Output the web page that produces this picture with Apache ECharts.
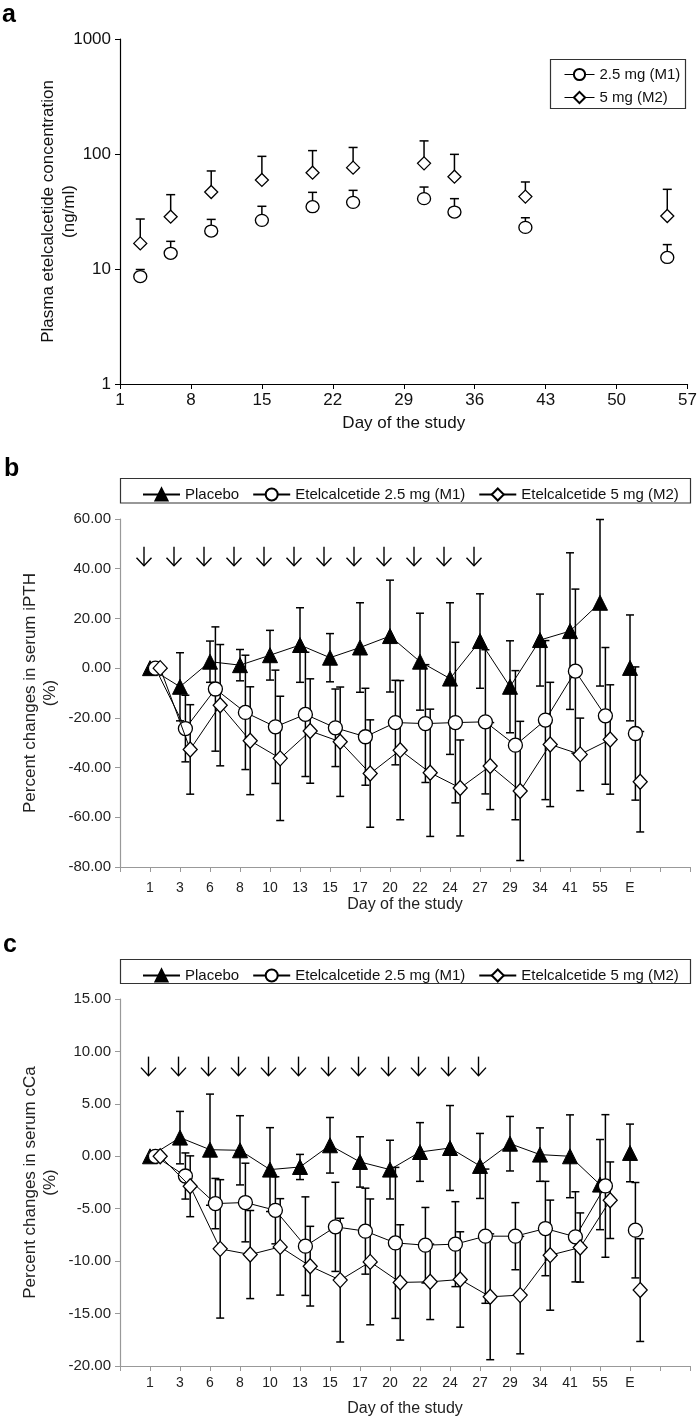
<!DOCTYPE html>
<html><head><meta charset="utf-8">
<script src="https://cdn.jsdelivr.net/npm/echarts@6/dist/echarts.min.js"></script>
<style>html,body{margin:0;padding:0;background:#fff}#c{width:700px;height:1419px}</style>
</head><body><div id="c"></div>
<script>
// ---------- Panel a: plasma concentration (log scale) ----------
const daysA = [3, 6, 10, 15, 20, 24, 31, 34, 41, 55];
const concM1 = [8.6, 13.7, 21.4, 26.5, 34.8, 38.0, 40.9, 31.3, 23.0, 12.6];
const concM1Top = [9.9, 17.4, 27.0, 35.1, 46.4, 48.3, 51.6, 40.9, 27.9, 16.3];
const concM2 = [16.7, 28.5, 46.7, 59.5, 68.8, 76.1, 82.9, 63.5, 42.6, 28.9];
const concM2Top = [27.2, 44.3, 71.2, 95.4, 107, 114, 130, 99.3, 57.1, 49.3];

// ---------- Panels b and c: visits ----------
const visitCats = ['1','3','6','8','10','13','15','17','20','22','24','27','29','34','41','55','E'];
const dosingDays = ['1','3','6','8','10','13','15','17','20','22','24','27'];

// Panel b: % change in serum iPTH (mean, SD)
const pthPlacebo = [0, -7.5, 2.6, 1.2, 5.2, 9.3, 4.2, 8.3, 12.9, 2.6, -4.2, 10.9, -7.5, 11.3, 14.9, 26.3, 0.1];
const pthPlaceboSD = [0, 13.7, 8.3, 6.3, 10, 15, 9.7, 18, 22.5, 19.5, 30.5, 19, 18.5, 18.5, 31.5, 33.5, 21.3];
const pthM1 = [0, -24.3, -8.4, -17.8, -23.6, -18.6, -24.0, -27.6, -21.9, -22.3, -21.9, -21.6, -31.0, -20.9, -1.2, -19.2, -26.3];
const pthM1SD = [0, 13.4, 25, 23, 22.8, 25, 15.6, 19.5, 17, 23.7, 32.3, 29, 30, 32, 33, 27.5, 26.8];
const pthM2 = [0, -32.7, -14.9, -29.2, -36.3, -25.3, -29.6, -42.4, -33.0, -42.1, -48.2, -39.4, -49.4, -30.7, -34.7, -28.7, -45.7];
const pthM2SD = [0, 18, 24.4, 21.7, 25, 21, 22, 21.6, 28, 25.6, 19.3, 17.5, 28, 25, 14.6, 22, 20.2];

// Panel c: % change in serum cCa (mean, SD)
const caPlacebo = [0, 1.78, 0.63, 0.57, -1.27, -1.02, 1.05, -0.54, -1.27, 0.41, 0.79, -0.92, 1.2, 0.16, 0.0, -2.7, 0.32];
const caPlaceboSD = [0, 2.5, 5.3, 3.3, 4.0, 1.2, 2.65, 2.4, 2.8, 2.8, 4.05, 3.1, 2.6, 2.55, 3.95, 4.3, 2.75];
const caM1 = [0, -1.88, -4.51, -4.41, -5.15, -8.57, -6.73, -7.14, -8.26, -8.48, -8.38, -7.62, -7.62, -6.89, -7.68, -2.83, -7.05];
const caM1SD = [0, 2.2, 2.4, 3.75, 3.2, 4.7, 4.25, 4.1, 7.2, 3.6, 4.05, 6.4, 3.2, 4.5, 4.3, 6.8, 4.55];
const caM2 = [0, -2.86, -8.83, -9.37, -8.64, -10.48, -11.81, -10.07, -12.03, -11.97, -11.75, -13.4, -13.24, -9.43, -8.7, -4.19, -12.76];
const caM2SD = [0, 2.9, 6.6, 4.2, 4.6, 3.8, 5.9, 6.0, 5.5, 3.6, 4.55, 6.0, 5.6, 5.25, 3.3, 3.65, 4.9];

const FONT = "'Liberation Sans', Arial, Helvetica, sans-serif";
const chart = echarts.init(document.getElementById('c'));

const offM1 = 0.18, offM2 = 0.34, offArrowB = -0.2, offArrowC = -0.05;
const nameP = 'Placebo', nameM1 = 'Etelcalcetide 2.5 mg (M1)', nameM2 = 'Etelcalcetide 5 mg (M2)';

function lineData(means, off) {
  const out = [];
  visitCats.forEach((c, i) => {
    if (c === 'E') out.push([i + off + 0.5, '-']);
    out.push([i + 1 + off, means[i]]);
  });
  return out;
}
function errData(means, sds, off) {
  return visitCats.map((c, i) => [i + 1 + off, means[i], sds[i]]).filter(d => d[2] > 0);
}
const barStyle = { stroke: '#000', lineWidth: 1.5 };
function errRender(params, api) {
  const x = api.value(0), m = api.value(1), s = api.value(2);
  const a = api.coord([x, m + s]), b = api.coord([x, m - s]);
  const w = 4;
  return { type: 'group', children: [
    { type: 'line', shape: { x1: a[0], y1: a[1], x2: b[0], y2: b[1] }, style: barStyle },
    { type: 'line', shape: { x1: a[0] - w, y1: a[1], x2: a[0] + w, y2: a[1] }, style: barStyle },
    { type: 'line', shape: { x1: b[0] - w, y1: b[1], x2: b[0] + w, y2: b[1] }, style: barStyle }
  ]};
}
function errUpRender(params, api) {
  const x = api.value(0), m = api.value(1), t = api.value(2);
  const a = api.coord([x, m]), b = api.coord([x, t]);
  const w = 4.5;
  return { type: 'group', children: [
    { type: 'line', shape: { x1: a[0], y1: a[1], x2: b[0], y2: b[1] }, style: barStyle },
    { type: 'line', shape: { x1: b[0] - w, y1: b[1], x2: b[0] + w, y2: b[1] }, style: barStyle }
  ]};
}
function arrowRender(params, api) {
  const p = api.coord([api.value(0), api.value(1)]);
  const st = { stroke: '#000', lineWidth: 1.4, fill: 'none' };
  return { type: 'group', children: [
    { type: 'line', shape: { x1: p[0], y1: p[1] - 9.5, x2: p[0], y2: p[1] + 9.5 }, style: st },
    { type: 'polyline', shape: { points: [[p[0] - 7.5, p[1] + 1.5], [p[0], p[1] + 9.5], [p[0] + 7.5, p[1] + 1.5]] }, style: st }
  ]};
}

const symStyleHollow = { color: '#fff', borderColor: '#000', borderWidth: 1.3 };
const symStyleFilled = { color: '#000', borderColor: '#000', borderWidth: 1 };

function visitPanel(xi, P, PSD, M1, M1SD, M2, M2SD, arrowLevel, arrowOff) {
  return [
    { type: 'custom', xAxisIndex: xi, yAxisIndex: xi, renderItem: errRender, encode: { x: 0, y: 1 }, data: errData(P, PSD, 0), z: 1, silent: true },
    { type: 'custom', xAxisIndex: xi, yAxisIndex: xi, renderItem: errRender, encode: { x: 0, y: 1 }, data: errData(M1, M1SD, offM1), z: 1, silent: true },
    { type: 'custom', xAxisIndex: xi, yAxisIndex: xi, renderItem: errRender, encode: { x: 0, y: 1 }, data: errData(M2, M2SD, offM2), z: 1, silent: true },
    { type: 'line', name: nameP, xAxisIndex: xi, yAxisIndex: xi, data: lineData(P, 0), symbol: 'triangle', symbolSize: 15,
      lineStyle: { color: '#000', width: 1 }, itemStyle: symStyleFilled, z: 3 },
    { type: 'line', name: nameM1, xAxisIndex: xi, yAxisIndex: xi, data: lineData(M1, offM1), symbol: 'circle', symbolSize: 14,
      lineStyle: { color: '#000', width: 1 }, itemStyle: symStyleHollow, z: 4 },
    { type: 'line', name: nameM2, xAxisIndex: xi, yAxisIndex: xi, data: lineData(M2, offM2), symbol: 'diamond', symbolSize: [14, 15],
      lineStyle: { color: '#000', width: 1 }, itemStyle: symStyleHollow, z: 5 },
    { type: 'custom', xAxisIndex: xi, yAxisIndex: xi, renderItem: arrowRender, encode: { x: 0, y: 1 },
      data: dosingDays.map(d => [visitCats.indexOf(d) + 1 + arrowOff, arrowLevel]), z: 2, silent: true }
  ];
}

function visitX(gi, margin, gap) {
  return { type: 'value', gridIndex: gi, min: 0, max: 19, interval: 1,
    axisLine: { onZero: false, lineStyle: { color: '#999', width: 1.2 } },
    axisTick: { show: true, length: 5, lineStyle: { color: '#999' } }, splitLine: { show: false },
    axisLabel: { color: '#222', fontSize: 14, fontFamily: FONT, margin: margin,
      formatter: v => (v >= 1 && v <= visitCats.length) ? visitCats[v - 1] : '' },
    name: 'Day of the study', nameLocation: 'middle', nameGap: gap, nameMoveOverlap: false,
    nameTextStyle: { color: '#222', fontSize: 16, fontFamily: FONT, verticalAlign: 'top' } };
}
function visitY(gi, min, max, interval, title) {
  return { type: 'value', gridIndex: gi, min, max, interval,
    axisLine: { show: true, onZero: false, lineStyle: { color: '#999', width: 1.2 } },
    axisTick: { show: true, length: 5, lineStyle: { color: '#999' } },
    splitLine: { show: false },
    axisLabel: { color: '#222', fontSize: 15, fontFamily: FONT, margin: 9, formatter: v => v.toFixed(2) },
    name: title, nameLocation: 'middle', nameRotate: 90, nameGap: 60, nameMoveOverlap: false,
    nameTextStyle: { color: '#222', fontSize: 17, fontFamily: FONT, lineHeight: 20 } };
}

const option = {
  animation: false,
  backgroundColor: '#fff',
  textStyle: { fontFamily: FONT },
  grid: [
    { left: 120, right: 12, top: 39, height: 345 },
    { left: 120, right: 10, top: 519, height: 348 },
    { left: 120, right: 10, top: 999, height: 367 }
  ],
  xAxis: [
    { type: 'value', gridIndex: 0, min: 0, max: 56, interval: 7,
      axisLine: { onZero: false, lineStyle: { color: '#000', width: 1.2 } }, axisTick: { length: 5, lineStyle: { color: '#000' } }, splitLine: { show: false },
      axisLabel: { color: '#111', fontSize: 17, fontFamily: FONT, margin: 8, formatter: v => String(v + 1) },
      name: 'Day of the study', nameLocation: 'middle', nameGap: 31, nameMoveOverlap: false,
      nameTextStyle: { color: '#111', fontSize: 17, fontFamily: FONT, verticalAlign: 'top' } },
    visitX(1, 14, 30),
    visitX(2, 10, 35)
  ],
  yAxis: [
    { type: 'log', gridIndex: 0, min: 1, max: 1000, logBase: 10,
      axisLine: { show: true, lineStyle: { color: '#000', width: 1.2 } }, axisTick: { show: true, length: 5, lineStyle: { color: '#000' } },
      splitLine: { show: false }, minorTick: { show: false },
      axisLabel: { color: '#111', fontSize: 17, fontFamily: FONT, margin: 9, formatter: v => String(Math.round(v)) },
      name: 'Plasma etelcalcetide concentration\n(ng/ml)', nameLocation: 'middle', nameRotate: 90, nameGap: 40, nameMoveOverlap: false,
      nameTextStyle: { color: '#111', fontSize: 17, fontFamily: FONT, lineHeight: 21 } },
    visitY(1, -80, 60, 20, 'Percent changes in serum iPTH\n(%)'),
    visitY(2, -20, 15, 5, 'Percent changes in serum cCa\n(%)')
  ],
  legend: [
    { data: ['2.5 mg (M1)', '5 mg (M2)'], orient: 'vertical', left: 559, top: 62, itemWidth: 30, itemHeight: 14, itemGap: 8,
      textStyle: { color: '#111', fontSize: 15, fontFamily: FONT }, lineStyle: { opacity: 1, width: 1, color: '#000' }, selectedMode: false },
    { data: [nameP, nameM1, nameM2], left: 137, top: 482, itemWidth: 37, itemHeight: 15, itemGap: 13,
      textStyle: { color: '#111', fontSize: 15, fontFamily: FONT }, selectedMode: false },
    { data: [nameP, nameM1, nameM2], left: 137, top: 963, itemWidth: 37, itemHeight: 15, itemGap: 13,
      textStyle: { color: '#111', fontSize: 15, fontFamily: FONT }, selectedMode: false }
  ],
  graphic: [
    { type: 'rect', shape: { x: 550.5, y: 59.5, width: 135, height: 49 }, style: { fill: 'none', stroke: '#333', lineWidth: 1.2 } },
    { type: 'rect', shape: { x: 120.5, y: 478.5, width: 570, height: 24.5 }, style: { fill: 'none', stroke: '#333', lineWidth: 1.2 } },
    { type: 'rect', shape: { x: 120.5, y: 959.5, width: 570, height: 24 }, style: { fill: 'none', stroke: '#333', lineWidth: 1.2 } },
    { type: 'text', left: 2, top: 3, style: { text: 'a', font: 'bold 25px ' + FONT, fill: '#000' } },
    { type: 'text', left: 4, top: 457, style: { text: 'b', font: 'bold 25px ' + FONT, fill: '#000' } },
    { type: 'text', left: 3, top: 933, style: { text: 'c', font: 'bold 25px ' + FONT, fill: '#000' } }
  ],
  series: [
    { type: 'custom', xAxisIndex: 0, yAxisIndex: 0, renderItem: errUpRender, encode: { x: 0, y: 1 },
      data: daysA.map((d, i) => [d - 1, concM1[i], concM1Top[i]]), z: 1, silent: true },
    { type: 'custom', xAxisIndex: 0, yAxisIndex: 0, renderItem: errUpRender, encode: { x: 0, y: 1 },
      data: daysA.map((d, i) => [d - 1, concM2[i], concM2Top[i]]), z: 1, silent: true },
    { type: 'line', name: '2.5 mg (M1)', xAxisIndex: 0, yAxisIndex: 0, data: daysA.map((d, i) => [d - 1, concM1[i]]),
      symbol: 'circle', symbolSize: [13, 12], lineStyle: { color: '#000', width: 1, opacity: 0 }, itemStyle: symStyleHollow, z: 3 },
    { type: 'line', name: '5 mg (M2)', xAxisIndex: 0, yAxisIndex: 0, data: daysA.map((d, i) => [d - 1, concM2[i]]),
      symbol: 'diamond', symbolSize: [13, 13], lineStyle: { color: '#000', width: 1, opacity: 0 }, itemStyle: symStyleHollow, z: 3 },
    ...visitPanel(1, pthPlacebo, pthPlaceboSD, pthM1, pthM1SD, pthM2, pthM2SD, 45, offArrowB),
    ...visitPanel(2, caPlacebo, caPlaceboSD, caM1, caM1SD, caM2, caM2SD, 8.6, offArrowC)
  ]
};
chart.setOption(option);
</script></body></html>
